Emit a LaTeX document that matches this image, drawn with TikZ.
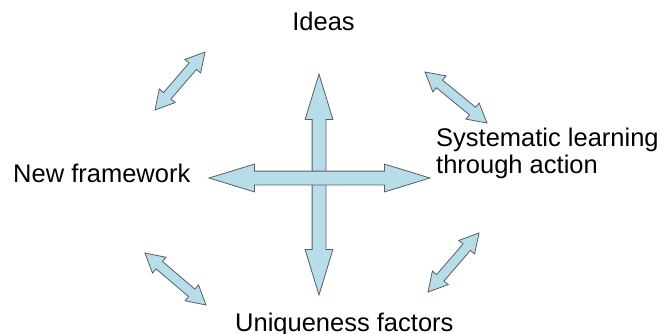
\documentclass[tikz,border=0pt]{standalone}
\usepackage{fontspec}
\setmainfont{Liberation Sans}
\usetikzlibrary{shapes.arrows}
\definecolor{arrowfill}{RGB}{183,221,232}
\definecolor{arrowline}{RGB}{85,95,100}

\begin{document}
\begin{tikzpicture}[x=1pt, y=-1pt]
	\tikzstyle{fatarrow} = [double arrow, draw=arrowline, fill=arrowfill, line width=0.8pt, inner sep=0pt]
	\tikzstyle{bigarrow} = [fatarrow, inner ysep=6.5pt, double arrow head extend=7pt, double arrow tip angle=34, minimum height=221pt]
	\tikzstyle{smallarrow} = [fatarrow, inner ysep=4.5pt, double arrow head extend=5.5pt, double arrow tip angle=58]
	\tikzstyle{topic} = [inner sep=0pt, font=\fontsize{25.5}{27}\selectfont, align=left]

	\useasboundingbox (0, 0) rectangle (665, 333);

	% the cross in the middle
	\node[bigarrow, rotate=90] (vert) at (319, 184.5) {};
	\node[bigarrow] (horiz) at (319.5, 178) {};

	% the four corners
	\node[smallarrow, minimum height=76.6pt, rotate=49.2]  (arr-tl) at (180, 81) {};
	\node[smallarrow, minimum height=80.3pt, rotate=-39.4] (arr-tr) at (456, 97.5) {};
	\node[smallarrow, minimum height=80.2pt, rotate=-40.4] (arr-bl) at (175.5, 279) {};
	\node[smallarrow, minimum height=78pt, rotate=49.2]    (arr-br) at (453.5, 262.5) {};

	% texts
	\node[topic, anchor=base] (ideas) at (323.5, 30) {Ideas};
	\node[topic, anchor=base west] (framework) at (13, 182) {New framework};
	\node[topic, anchor=base west] (learning) at (436, 173) {Systematic learning\\through action};
	\node[topic, anchor=base west] (unique) at (235, 331) {Uniqueness factors};
\end{tikzpicture}
\end{document}
